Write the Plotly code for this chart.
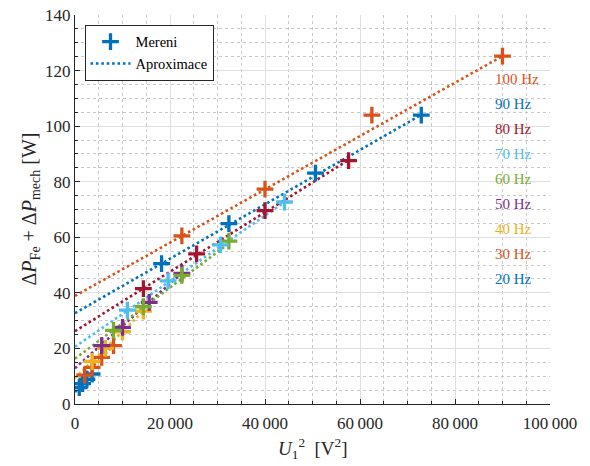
import plotly.graph_objects as go

# ---- data ----
freq_labels = ["20 Hz", "30 Hz", "40 Hz", "50 Hz", "60 Hz", "70 Hz", "80 Hz", "90 Hz", "100 Hz"]
colors = ["#0072BD", "#D95319", "#EDB120", "#7E2F8E", "#77AC30", "#4DBEEE", "#A2142F", "#0072BD", "#D95319"]

u2_20 = [900, 1600, 2500, 3600]
p_20 = [5.9, 7.3, 8.9, 10.8]
u2_30 = [2025, 3600, 5625, 8100]
p_30 = [10.4, 13.2, 16.8, 21.0]
u2_40 = [3600, 6400, 10000, 14400]
p_40 = [15.3, 20.0, 26.0, 33.4]
u2_50 = [5625, 10000, 15625, 22500]
p_50 = [21.0, 27.6, 36.6, 47.0]
u2_60 = [8100, 14400, 22500, 32400]
p_60 = [26.5, 35.0, 46.3, 58.6]
u2_70 = [11025, 19600, 30625, 44100]
p_70 = [33.8, 44.3, 57.3, 72.7]
u2_80 = [14400, 25600, 40000, 57600]
p_80 = [41.5, 54.0, 69.6, 87.6]
u2_90 = [18225, 32400, 50625, 72900]
p_90 = [50.5, 64.9, 83.1, 104.0]
u2_100 = [22500, 40000, 62500, 90000]
p_100 = [60.5, 77.3, 104.0, 125.2]

fit_intercept = [4.3, 6.9, 9.3, 12.9, 16.3, 20.6, 26.2, 32.7, 38.9]
fit_slope = [0.00180, 0.00175, 0.00168, 0.00152, 0.00128, 0.00118, 0.00107, 0.000979, 0.000959]

label_y = [45, 54, 63, 72, 81, 90, 99, 108, 117]

x_ticks = [0, 20000, 40000, 60000, 80000, 100000]
x_tick_text = ["0", "20\u2009000", "40\u2009000", "60\u2009000", "80\u2009000", "100\u2009000"]
y_ticks = [0, 20, 40, 60, 80, 100, 120, 140]

u2_sets = [u2_20, u2_30, u2_40, u2_50, u2_60, u2_70, u2_80, u2_90, u2_100]
p_sets = [p_20, p_30, p_40, p_50, p_60, p_70, p_80, p_90, p_100]

FONT = "Liberation Serif"
TXT = "#262626"
fig = go.Figure()

for i in range(len(freq_labels)):
    xmax = max(u2_sets[i])
    fig.add_trace(go.Scatter(
        x=[0, xmax], y=[fit_intercept[i], fit_intercept[i] + fit_slope[i] * xmax],
        mode="lines", line=dict(color=colors[i], width=2.6, dash="2.6px,2.8px"),
        showlegend=False, hoverinfo="skip"))

for i in range(len(freq_labels)):
    fig.add_trace(go.Scatter(
        x=u2_sets[i], y=p_sets[i], mode="markers",
        marker=dict(symbol="cross-thin", size=12, line=dict(color=colors[i], width=3.3)),
        showlegend=False, name=freq_labels[i]))

# legend entries
fig.add_trace(go.Scatter(x=[None], y=[None], mode="markers", name="Mereni",
                         marker=dict(symbol="cross-thin", size=12, line=dict(color="#0072BD", width=3.3))))
fig.add_trace(go.Scatter(x=[None], y=[None], mode="lines", name="Aproximace",
                         line=dict(color="#0072BD", width=2.6, dash="2.6px,2.8px")))

for i in range(len(freq_labels)):
    fig.add_annotation(x=88000, y=label_y[i], text=freq_labels[i], showarrow=False,
                       xanchor="left", yanchor="middle",
                       font=dict(family=FONT, size=15, color=colors[i]))

# axis titles
fig.add_annotation(x=0, y=0.5, xref="paper", yref="paper", xanchor="center", yanchor="middle",
                   xshift=-45, textangle=-90, showarrow=False,
                   text="\u0394<i>P</i><sub>Fe</sub> + \u0394<i>P</i><sub>mech</sub> [W]",
                   font=dict(family=FONT, size=20, color=TXT))
fig.add_annotation(x=0.5, y=0, xref="paper", yref="paper", xanchor="center", yanchor="middle",
                   yshift=-44, showarrow=False,
                   text="<i>U</i><sub>1</sub><sup>2</sup>\u2002[V<sup>2</sup>]",
                   font=dict(family=FONT, size=19, color=TXT))

axis_common = dict(
    showline=True, linecolor=TXT, linewidth=1, mirror=False,
    ticks="inside", ticklen=5, tickcolor=TXT,
    showgrid=True, gridcolor="#DFDFDF", gridwidth=1,
    zeroline=False, automargin=False,
    tickfont=dict(family=FONT, size=17, color=TXT),
)

fig.update_xaxes(range=[0, 100000], tickvals=x_ticks, ticktext=x_tick_text,
                 ticklabelstandoff=4,
                 minor=dict(dtick=5000, showgrid=True, gridcolor="#C8C8C8", griddash="dot",
                            gridwidth=1, ticks="inside", ticklen=3, tickcolor=TXT),
                 **axis_common)
fig.update_yaxes(range=[0, 140], tickvals=y_ticks,
                 minor=dict(dtick=5, showgrid=True, gridcolor="#C8C8C8", griddash="dot",
                            gridwidth=1, ticks="inside", ticklen=3, tickcolor=TXT),
                 **axis_common)

fig.update_layout(
    width=590, height=466,
    margin=dict(l=75, r=40, t=15, b=62),
    plot_bgcolor="white", paper_bgcolor="white",
    legend=dict(x=0.02, y=0.975, xanchor="left", yanchor="top",
                bgcolor="white", bordercolor=TXT, borderwidth=1,
                font=dict(family=FONT, size=14.5, color="#000000"),
                tracegroupgap=0, itemwidth=40),
    showlegend=True,
)

fig.write_html("out.html", config={"displayModeBar": False},
               post_script="document.body.style.margin='0';")
